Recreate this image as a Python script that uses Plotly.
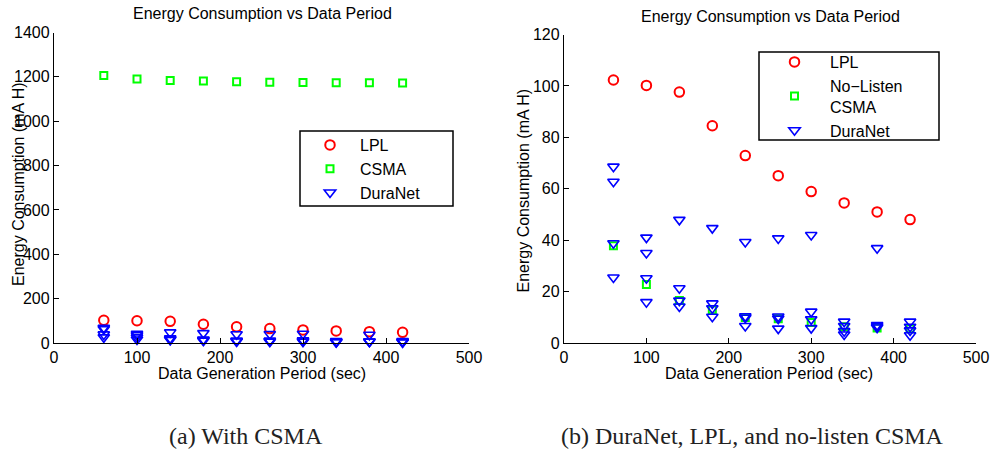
import plotly.graph_objects as go

# ---------------- data ----------------
periods = [60, 100, 140, 180, 220, 260, 300, 340, 380, 420]

lpl = [102.3, 100.2, 97.6, 84.5, 72.9, 65.1, 58.9, 54.5, 51.0, 48.0]
csma_listen = [1206, 1190, 1184, 1181, 1178, 1176, 1175, 1173, 1173, 1172]
no_listen_csma = [37.8, 22.8, 16.5, 12.9, 9.9, 9.4, 8.0, 6.3, 5.8, 5.5]

duranet_a = [68.6, 41.0, 47.9, 44.7, 39.3, 40.7, 42.0, 8.3, 36.9, 8.3]
duranet_b = [62.7, 35.0, 21.3, 15.4, 10.4, 10.3, 12.2, 6.6, 7.0, 6.3]
duranet_c = [38.8, 25.2, 16.5, 13.5, 9.8, 9.5, 9.2, 4.6, 6.5, 4.9]
duranet_d = [25.5, 15.9, 14.2, 10.2, 6.6, 5.6, 5.8, 3.3, 6.0, 3.0]

left_yticks = [0, 200, 400, 600, 800, 1000, 1200, 1400]
right_yticks = [0, 20, 40, 60, 80, 100, 120]
xticks = [0, 100, 200, 300, 400, 500]

title_text = "Energy Consumption vs Data Period"
xlabel = "Data Generation Period (sec)"
ylabel = "Energy Consumption (mA H)"
caption_a = "(a) With CSMA"
caption_b = "(b) DuraNet, LPL, and no-listen CSMA"

# ---------------- styles ----------------
SANS = "Liberation Sans, Arial, sans-serif"
SERIF = "Liberation Serif, Times New Roman, serif"
RED, GREEN, BLUE = "#ff0000", "#00ff00", "#0000ff"

dura_x = periods * 4
dura_y = duranet_a + duranet_b + duranet_c + duranet_d

fig = go.Figure()

def circle():
    return dict(symbol="circle-open", size=9.5, color=RED, line=dict(color=RED, width=2))

def square():
    return dict(symbol="square-open", size=7, color=GREEN, line=dict(color=GREEN, width=2))

def tri():
    return dict(symbol="triangle-down-open", size=10, color=BLUE, line=dict(color=BLUE, width=1.6))

# left panel
fig.add_trace(go.Scatter(x=periods, y=lpl, mode="markers", name="LPL", marker=circle(),
                         xaxis="x", yaxis="y", legend="legend", cliponaxis=False))
fig.add_trace(go.Scatter(x=periods, y=csma_listen, mode="markers", name="CSMA", marker=square(),
                         xaxis="x", yaxis="y", legend="legend", cliponaxis=False))
fig.add_trace(go.Scatter(x=dura_x, y=dura_y, mode="markers", name="DuraNet", marker=tri(),
                         xaxis="x", yaxis="y", legend="legend", cliponaxis=False))

# right panel
fig.add_trace(go.Scatter(x=periods, y=lpl, mode="markers", name="LPL", marker=circle(),
                         xaxis="x2", yaxis="y2", legend="legend2", cliponaxis=False))
fig.add_trace(go.Scatter(x=periods, y=no_listen_csma, mode="markers", name="No\u2212Listen<br>CSMA",
                         marker=square(), xaxis="x2", yaxis="y2", legend="legend2", cliponaxis=False))
fig.add_trace(go.Scatter(x=dura_x, y=dura_y, mode="markers", name="DuraNet", marker=tri(),
                         xaxis="x2", yaxis="y2", legend="legend2", cliponaxis=False))

W, H = 992, 451

def px(x):
    return x / W

def py(y):
    return (H - y) / H

axis_common = dict(
    showline=True, linecolor="black", linewidth=1.3, mirror=False,
    ticks="inside", ticklen=5, tickwidth=1, tickcolor="black",
    showgrid=False, zeroline=False, automargin=False,
    tickfont=dict(family=SANS, size=16, color="black"),
)

fig.update_layout(
    width=W, height=H,
    margin=dict(l=0, r=0, t=0, b=0),
    paper_bgcolor="white", plot_bgcolor="white",
    xaxis=dict(domain=[px(54), px(469)], range=[0, 500], tickvals=xticks, anchor="y", **axis_common),
    yaxis=dict(domain=[py(343), py(32.5)], range=[0, 1400], tickvals=left_yticks, anchor="x", **axis_common),
    xaxis2=dict(domain=[px(564), px(976)], range=[0, 500], tickvals=xticks, anchor="y2", **axis_common),
    yaxis2=dict(domain=[py(343), py(34.5)], range=[0, 120], tickvals=right_yticks, anchor="x2", **axis_common),
    legend=dict(x=px(300), y=py(128), xanchor="left", yanchor="top", bgcolor="rgba(0,0,0,0)",
                borderwidth=0, font=dict(family=SANS, size=16, color="black"), itemwidth=50,
                valign="middle"),
    legend2=dict(x=px(759), y=py(45), xanchor="left", yanchor="top", bgcolor="rgba(0,0,0,0)",
                 borderwidth=0, font=dict(family=SANS, size=16, color="black"), itemwidth=61,
                 valign="middle"),
    showlegend=True,
)

shapes = [
    dict(type="rect", xref="paper", yref="paper", x0=px(300), x1=px(453), y0=py(206), y1=py(131),
         line=dict(color="black", width=1.5), fillcolor="rgba(0,0,0,0)"),
    dict(type="rect", xref="paper", yref="paper", x0=px(759), x1=px(939), y0=py(140), y1=py(52),
         line=dict(color="black", width=1.5), fillcolor="rgba(0,0,0,0)"),
]
fig.update_layout(shapes=shapes)

ann_font = dict(family=SANS, size=16, color="black")
annotations = [
    dict(text=title_text, x=px(262.5), y=py(13.3), xref="paper", yref="paper", showarrow=False,
         xanchor="center", yanchor="middle", font=ann_font),
    dict(text=title_text, x=px(770.5), y=py(16.7), xref="paper", yref="paper", showarrow=False,
         xanchor="center", yanchor="middle", font=ann_font),
    dict(text=xlabel, x=px(262), y=py(373), xref="paper", yref="paper", showarrow=False,
         xanchor="center", yanchor="middle", font=ann_font),
    dict(text=xlabel, x=px(768.5), y=py(373.5), xref="paper", yref="paper", showarrow=False,
         xanchor="center", yanchor="middle", font=ann_font),
    dict(text=ylabel, x=px(18), y=py(184), xref="paper", yref="paper", showarrow=False,
         textangle=-90, xanchor="center", yanchor="middle", font=ann_font),
    dict(text=ylabel, x=px(523), y=py(190.5), xref="paper", yref="paper", showarrow=False,
         textangle=-90, xanchor="center", yanchor="middle", font=ann_font),
    dict(text=caption_a, x=px(246), y=py(436), xref="paper", yref="paper", showarrow=False,
         xanchor="center", yanchor="middle", font=dict(family=SERIF, size=24, color="#222222")),
    dict(text=caption_b, x=px(752), y=py(436), xref="paper", yref="paper", showarrow=False,
         xanchor="center", yanchor="middle", font=dict(family=SERIF, size=24, color="#222222")),
]
fig.update_layout(annotations=annotations)

fig.write_html(
    "out.html",
    config={"displayModeBar": False},
    post_script="document.body.style.margin='0';document.body.style.overflow='hidden';",
)
